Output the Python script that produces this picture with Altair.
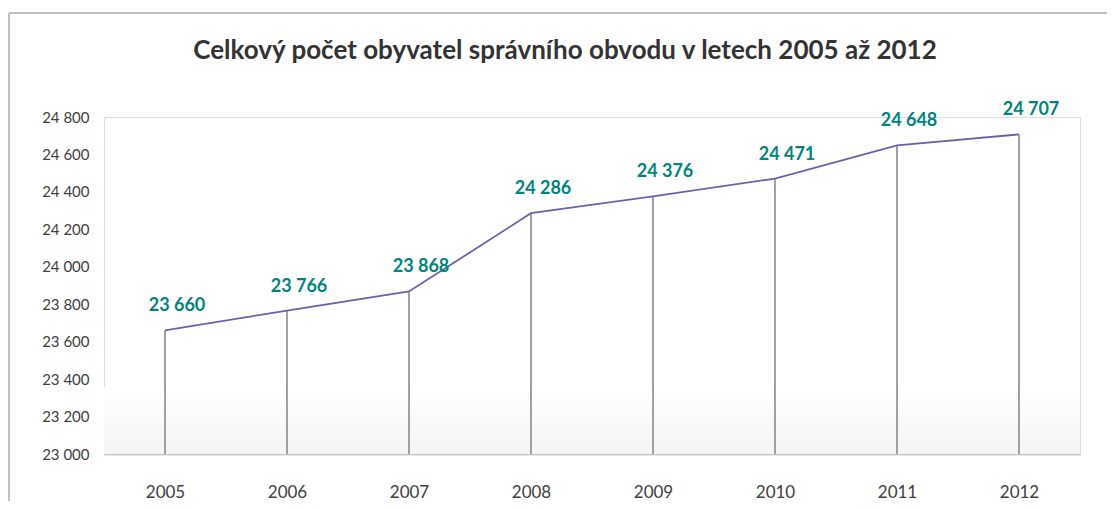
import altair as alt
import pandas as pd

years = ["2005", "2006", "2007", "2008", "2009", "2010", "2011", "2012"]
values = [23660, 23766, 23868, 24286, 24376, 24471, 24648, 24707]
y_ticks = [23000, 23200, 23400, 23600, 23800, 24000, 24200, 24400, 24600, 24800]
title_text = "Celkový počet obyvatel správního obvodu v letech 2005 až 2012"

df = pd.DataFrame({"year": years, "value": values})

W, H = 976, 337
FONT = "Lato"

x_enc = alt.X("year:O", scale=alt.Scale(type="point", padding=0.5),
              axis=alt.Axis(title=None, labelAngle=0, ticks=False, domain=True,
                            domainColor="#c8c8c8", domainWidth=2,
                            labelFontSize=17, labelColor="#404040", labelFont=FONT,
                            labelPadding=30))
y_scale = alt.Scale(domain=[23000, 24800], nice=False, zero=False)
y_enc = alt.Y("value:Q", scale=y_scale,
              axis=alt.Axis(title=None, values=y_ticks, grid=False, domain=False, ticks=False,
                            labelFontSize=15, labelColor="#404040", labelFont=FONT,
                            labelPadding=15,
                            labelExpr="replace(format(datum.value, ','), ',', ' ')"))

base = alt.Chart(df)

one = pd.DataFrame({"a": [0]})

bg = alt.Chart(one).mark_rect(
    color=alt.Gradient(gradient="linear",
                       stops=[alt.GradientStop(color="#ffffff", offset=0),
                              alt.GradientStop(color="#f4f4f4", offset=1)],
                       x1=0, x2=0, y1=0, y2=1)
).encode(x=alt.value(0), x2=alt.value(W), y=alt.value(270), y2=alt.value(H))

drops = base.mark_rule(color="#a0a0a0", strokeWidth=2).encode(
    x=x_enc, y=y_enc, y2=alt.datum(23000))

line = base.mark_line(color="#6a63a8", strokeWidth=1.8).encode(x=x_enc, y=y_enc)

labels = base.transform_calculate(
    lab="replace(format(datum.value, ','), ',', ' ')"
).mark_text(font=FONT, fontSize=18, fontWeight="bold", color="#00857d",
            baseline="alphabetic", dy=-19, dx=12).encode(x=x_enc, y=y_enc, text="lab:N")

title = alt.Chart(pd.DataFrame({"t": [title_text]})).mark_text(
    font=FONT, fontSize=26, fontWeight="bold", color="#333333", baseline="alphabetic"
).encode(x=alt.value(461), y=alt.value(-58), text="t:N")

border_left = alt.Chart(one).mark_rule(color="#c0c0c0", strokeWidth=2).encode(
    x=alt.value(-95), y=alt.value(-104), y2=alt.value(400))
border_top = alt.Chart(one).mark_rule(color="#c0c0c0", strokeWidth=2).encode(
    x=alt.value(-95), x2=alt.value(1020), y=alt.value(-104))

chart = alt.layer(bg, border_left, border_top, drops, line, labels, title).properties(
    width=W, height=H,
    autosize=alt.AutoSizeParams(type="none"),
    padding={"left": 96, "top": 109, "right": 27, "bottom": 47},
).configure_view(stroke=None).configure(background="white")

chart.save("out.html", embed_options={"renderer": "svg", "actions": False})
